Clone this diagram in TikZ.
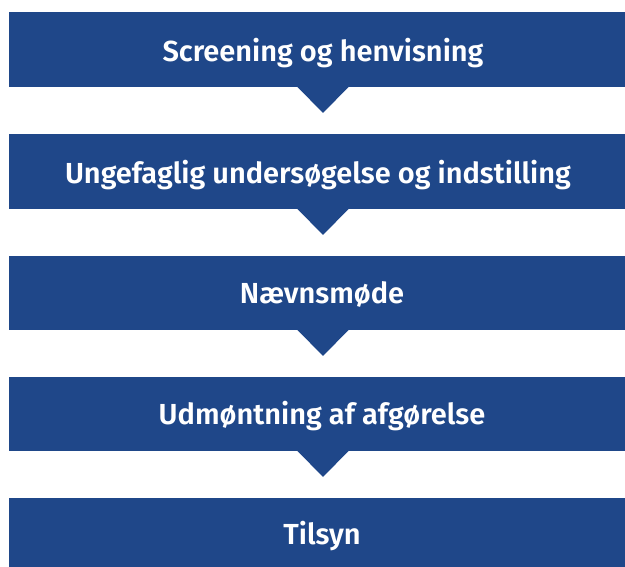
\documentclass[tikz,border=0pt]{standalone}
\usepackage{fontspec}
\setmainfont{Fira Sans}[BoldFont={Fira Sans SemiBold}]
\definecolor{navy}{RGB}{31,71,137}
\begin{document}
\begin{tikzpicture}[x=1pt,y=-1pt,
  steptext/.style={text=white,font=\bfseries\fontsize{29}{32}\selectfont,inner sep=0pt,anchor=base}]
\useasboundingbox (0,0) rectangle (625,567);
\foreach \t/\b in {12/87,134/209,256/330,377/451,498/567}{
  \fill[navy] (9,\t) rectangle (625,\b);
}
\foreach \b in {87,209,330,451}{
  \fill[navy] (297,\b-0.5) -- (349,\b-0.5) -- (323,\b+26) -- cycle;
}
\node[steptext] (s1) at (323,61.5) {Screening og henvisning};
\node[steptext] (s2) at (318,183.5) {Ungefaglig undersøgelse og indstilling};
\node[steptext] (s3) at (322,303.5) {Nævnsmøde};
\node[steptext] (s4) at (322,424.5) {Udmøntning af afgørelse};
\node[steptext] (s5) at (322,544.5) {Tilsyn};
\end{tikzpicture}
\end{document}
